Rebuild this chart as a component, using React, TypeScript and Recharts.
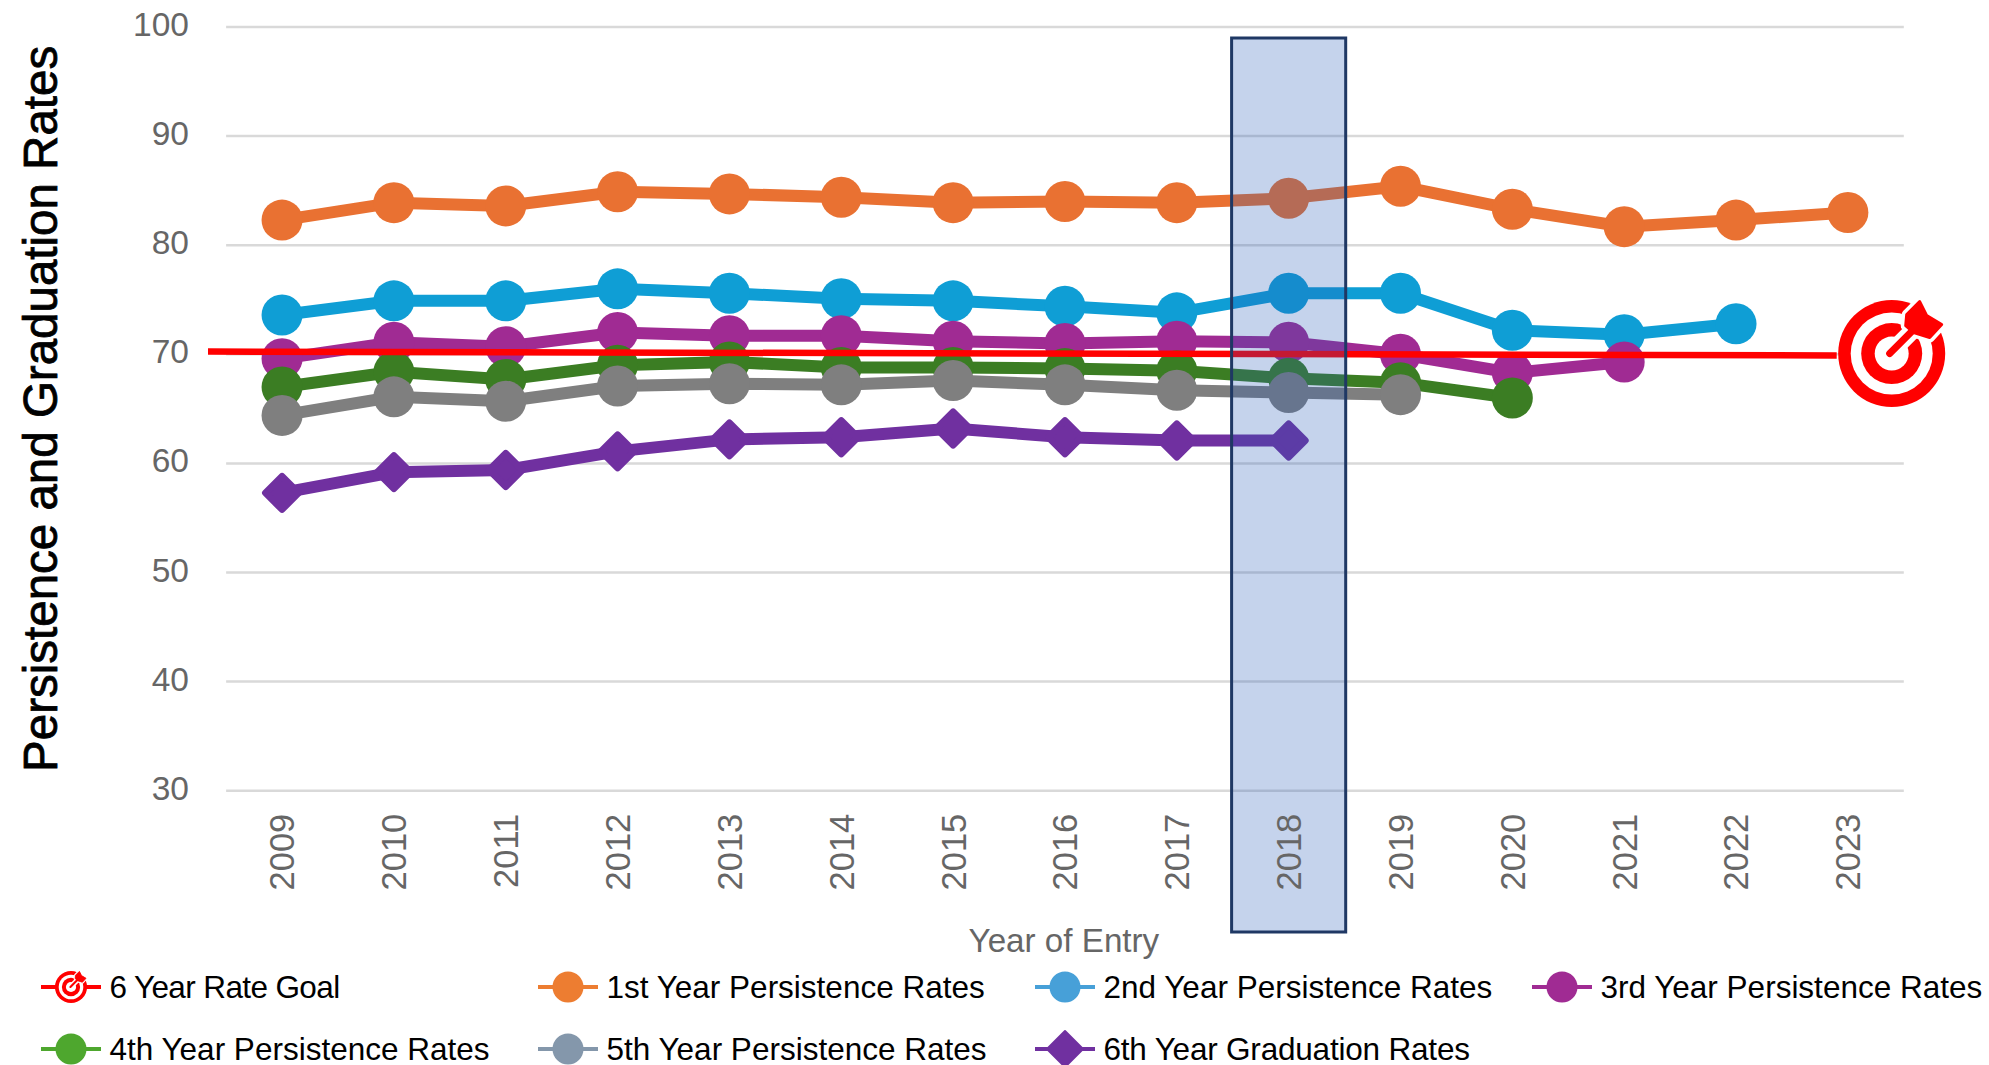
import { LineChart, Line, XAxis, YAxis, Legend, ReferenceLine, ReferenceArea, Label } from 'recharts'

const years = [2009, 2010, 2011, 2012, 2013, 2014, 2015, 2016, 2017, 2018, 2019, 2020, 2021, 2022, 2023]
const yTicks = [30, 40, 50, 60, 70, 80, 90, 100]

const firstYear = [82.3, 83.9, 83.6, 84.9, 84.7, 84.4, 83.9, 84.0, 83.9, 84.3, 85.4, 83.3, 81.7, 82.3, 83.0]
const secondYear = [73.6, 74.9, 74.9, 76.0, 75.6, 75.1, 74.9, 74.4, 73.8, 75.6, 75.6, 72.2, 71.8, 72.8]
const thirdYear = [69.6, 71.1, 70.7, 72.0, 71.7, 71.7, 71.2, 71.0, 71.2, 71.1, 70.0, 68.3, 69.3]
const fourthYear = [67.0, 68.4, 67.7, 69.0, 69.3, 68.8, 68.8, 68.7, 68.5, 67.8, 67.4, 66.0]
const fifthYear = [64.4, 66.1, 65.7, 67.1, 67.3, 67.2, 67.6, 67.2, 66.7, 66.5, 66.3]
const sixthYear = [57.3, 59.2, 59.4, 61.1, 62.2, 62.4, 63.2, 62.4, 62.1, 62.1]

// goal was a hand drawn line in the original, runs a bit past the axis and tilts slightly
const goalYears = [2008.338, 2022.9]
const goalValues = [70.25, 69.9]

const highlightYears = [2017.49, 2018.51]
const highlightValues = [17.05, 98.99]

const GOAL = '6 Year Rate Goal'
const legendOrder = [
  GOAL,
  '1st Year Persistence Rates',
  '2nd Year Persistence Rates',
  '3rd Year Persistence Rates',
  '4th Year Persistence Rates',
  '5th Year Persistence Rates',
  '6th Year Graduation Rates',
]
const legendColors = ['#FF0000', '#ED7D31', '#47A0D8', '#A02B93', '#4EA72E', '#8497AB', '#7030A0']
const legendSpacing = [-0.62, 0, 0, 0, 0, 0, -0.2]

const rows = [
  { year: goalYears[0], goal: goalValues[0] },
  ...years.slice(0, 14).map((year, i) => ({
    year,
    first: firstYear[i],
    second: secondYear[i],
    third: thirdYear[i],
    fourth: fourthYear[i],
    fifth: fifthYear[i],
    sixth: sixthYear[i],
  })),
  { year: goalYears[1], goal: goalValues[1] },
  { year: years[14], first: firstYear[14] },
]

const FONT = '"Liberation Sans", Arial, sans-serif'
const TICK_COLOR = '#666666'

const TargetIcon = ({ cx, cy, scale = 1 }: any) => (
  <g transform={`translate(${cx},${cy}) scale(${scale})`}>
    <circle r={53.5} fill="#FF0000" />
    <circle r={41} fill="#fff" />
    <circle r={30.5} fill="#FF0000" />
    <circle r={17} fill="#fff" />
    <path d="M-2,0 L26,-28" stroke="#fff" strokeWidth={17} strokeLinecap="round" />
    <path
      d="M28,-52 L35,-38 L50,-29 L38,-16 L22,-21 L14,-28 L15,-39 Z"
      fill="#fff"
      stroke="#fff"
      strokeWidth={10}
      strokeLinejoin="round"
    />
    <path d="M-2,0 L26,-28" stroke="#FF0000" strokeWidth={7} strokeLinecap="round" />
    <path
      d="M28,-52 L35,-38 L50,-29 L38,-16 L22,-21 L14,-28 L15,-39 Z"
      fill="#FF0000"
      stroke="#FF0000"
      strokeWidth={3}
      strokeLinejoin="round"
    />
  </g>
)

// icon sits just past the end of the goal line
const GoalDot = ({ cx, cy, payload, index }: any) => {
  if (payload.year !== goalYears[1]) return <g key={index} />
  return (
    <g key={index}>
      <TargetIcon cx={cx + 55} cy={cy - 1.8} />
    </g>
  )
}

const diamondDot = (color: string) => ({ cx, cy, index }: any) => {
  if (cx == null || cy == null) return <g key={index} />
  return (
    <path
      key={index}
      d={`M${cx},${cy - 16.5} L${cx + 16.5},${cy} L${cx},${cy + 16.5} L${cx - 16.5},${cy} Z`}
      fill={color}
      stroke={color}
      strokeWidth={7}
      strokeLinejoin="round"
    />
  )
}

const XTick = ({ x, y, payload }: any) => (
  <text
    transform={`translate(${x},${y}) rotate(-90)`}
    textAnchor="end"
    dy="0.36em"
    fontFamily={FONT}
    fontSize={34.5}
    fill={TICK_COLOR}
  >
    {payload.value}
  </text>
)

const YTick = ({ x, y, payload }: any) => (
  <text x={x} y={y - 3} textAnchor="end" dy="0.36em" fontFamily={FONT} fontSize={33.5} fill={TICK_COLOR}>
    {payload.value}
  </text>
)

const LegendMarker = ({ name, color }: any) => {
  const isGoal = name === GOAL
  const isDiamond = name === legendOrder[6]
  return (
    <svg width={60} height={40} style={{ position: 'absolute', left: 0, top: 0, overflow: 'visible' }}>
      <line x1={0} x2={60} y1={20} y2={20} stroke={color} strokeWidth={4} />
      {isGoal && <TargetIcon cx={30} cy={20} scale={0.3} />}
      {isDiamond && <path d="M30,2 L48,20 L30,38 L12,20 Z" fill={color} stroke={color} strokeWidth={2} strokeLinejoin="round" />}
      {!isGoal && !isDiamond && <circle cx={30} cy={20} r={15.5} fill={color} />}
    </svg>
  )
}

const LegendBox = () => (
  <div style={{ position: 'relative', width: 1989, height: 110 }}>
    {legendOrder.map((name, i) => (
      <div
        key={name}
        style={{
          position: 'absolute',
          left: 41 + (i % 4) * 497,
          top: Math.floor(i / 4) * 62,
          height: 40,
          lineHeight: '40px',
          paddingLeft: 68.5,
          whiteSpace: 'nowrap',
          fontFamily: FONT,
          fontSize: 31.5,
          letterSpacing: legendSpacing[i],
          color: '#000',
        }}
      >
        <LegendMarker name={name} color={legendColors[i]} />
        {name}
      </div>
    ))}
  </div>
)

const seriesLine = (key: string, name: string, color: string, dot?: any) => (
  <Line
    dataKey={key}
    name={name}
    stroke={color}
    strokeWidth={12}
    connectNulls
    dot={dot ?? { r: 20.5, fill: color, stroke: color, strokeWidth: 0 }}
    activeDot={false}
    isAnimationActive={false}
    legendType="none"
  />
)

export default function App() {
  return (
    <div style={{ position: 'absolute', left: 0, top: 0, width: 1989, height: 1065, background: '#fff' }}>
      <LineChart width={1989} height={1065} data={rows} margin={{ top: 27, right: 85.2, bottom: 174.3, left: 8 }}>
        <XAxis
          dataKey="year"
          type="number"
          domain={[2008.338, 2023.5]}
          ticks={years}
          interval={0}
          axisLine={false}
          tickLine={false}
          height={100}
          tick={<XTick />}
          tickMargin={17}
        >
          <Label
            content={({ viewBox }: any) => (
              <text
                x={viewBox.x + viewBox.width / 2 + 8}
                y={951.7}
                textAnchor="middle"
                fontFamily={FONT}
                fontSize={33.2}
                fill={TICK_COLOR}
              >
                Year of Entry
              </text>
            )}
          />
        </XAxis>
        <YAxis
          type="number"
          domain={[30, 100]}
          ticks={yTicks}
          interval={0}
          axisLine={false}
          tickLine={false}
          width={200}
          tick={<YTick />}
          tickMargin={13}
        >
          <Label
            content={({ viewBox }: any) => (
              <text
                transform={`translate(57,${viewBox.y + viewBox.height / 2}) rotate(-90)`}
                textAnchor="middle"
                fontFamily={FONT}
                fontSize={47.5}
                fill="#000"
                stroke="#000"
                strokeWidth={0.8}
              >
                Persistence and Graduation Rates
              </text>
            )}
          />
        </YAxis>

        {yTicks.map(v => (
          <ReferenceLine
            key={v}
            segment={[{ x: 2008.5, y: v }, { x: 2023.5, y: v }]}
            stroke="#D9D9D9"
            strokeWidth={2.5}
            ifOverflow="visible"
          />
        ))}

        {seriesLine('first', legendOrder[1], '#E97132')}
        {seriesLine('second', legendOrder[2], '#0F9ED5')}
        {seriesLine('third', legendOrder[3], '#A02B93')}
        {seriesLine('fourth', legendOrder[4], '#3B7D23')}
        {seriesLine('fifth', legendOrder[5], '#7F7F7F')}
        {seriesLine('sixth', legendOrder[6], '#7030A0', diamondDot('#7030A0'))}

        {/* dots all live on one layer, goal line has to go above that */}
        <Line
          dataKey="goal"
          name={GOAL}
          stroke="#FF0000"
          strokeWidth={6.5}
          connectNulls
          dot={GoalDot}
          activeDot={false}
          isAnimationActive={false}
          legendType="none"
          zIndex={650}
        />

        <ReferenceArea
          x1={highlightYears[0]}
          x2={highlightYears[1]}
          y1={highlightValues[0]}
          y2={highlightValues[1]}
          fill="#285CB9"
          fillOpacity={0.27}
          stroke="#1F3864"
          strokeWidth={3}
          ifOverflow="visible"
          zIndex={1500}
        />

        <Legend
          layout="horizontal"
          verticalAlign="middle"
          content={<LegendBox />}
          wrapperStyle={{ left: 0, top: 967, width: 1989, height: 110 }}
        />
      </LineChart>
    </div>
  )
}
